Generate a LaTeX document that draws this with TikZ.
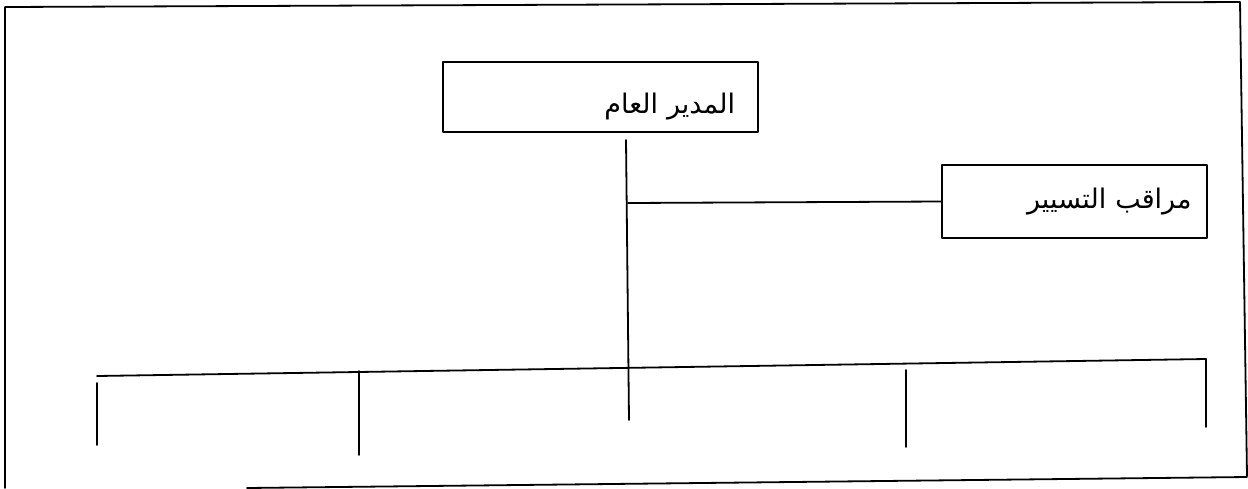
\documentclass[tikz,border=0pt]{standalone}
\usepackage{fontspec}
\newfontfamily\arabicfont[Script=Arabic]{DejaVu Sans}
\TeXXeTstate=1
\begin{document}
\begin{tikzpicture}[x=0.5pt,y=-0.5pt,line join=round,line cap=round,
  box/.style={draw,line width=0.9pt,inner sep=0pt,align=right,font=\arabicfont\fontsize{13.5}{15}\selectfont},
  link/.style={line width=0.9pt}]
\useasboundingbox (0,0) rectangle (1248,488);
% frame
\draw[link] (5,488) -- (5,7) -- (1240,2) -- (1247,476);
\draw[link] (247,488) -- (1247,477);
% boxes
\node[box,minimum width=157.5pt,minimum height=35pt,text width=134.5pt] (gm) at (600.5,97) {\raisebox{-8pt}[0pt][0pt]{\beginR المدير العام\endR}};
\node[box,minimum width=132.5pt,minimum height=36.5pt,text width=117pt] (ctrl) at (1074.5,201.5) {\beginR مراقب التسيير\endR};
% links
\coordinate (gmtop) at (626,140);
\coordinate (gmbot) at (629,420);
\coordinate (tap) at (628,203);
\draw[link] (gmtop) -- (gmbot);
\draw[link] (ctrl.west) -- (tap);
\coordinate (busl) at (97,376);
\coordinate (busr) at (1206,359);
\draw[link] (busl) -- (busr);
\foreach \x/\a/\b in {97/383/445,359/371/455,906/370/447,1206/359/427}
  \draw[link] (\x,\a) -- (\x,\b);
\end{tikzpicture}
\end{document}
